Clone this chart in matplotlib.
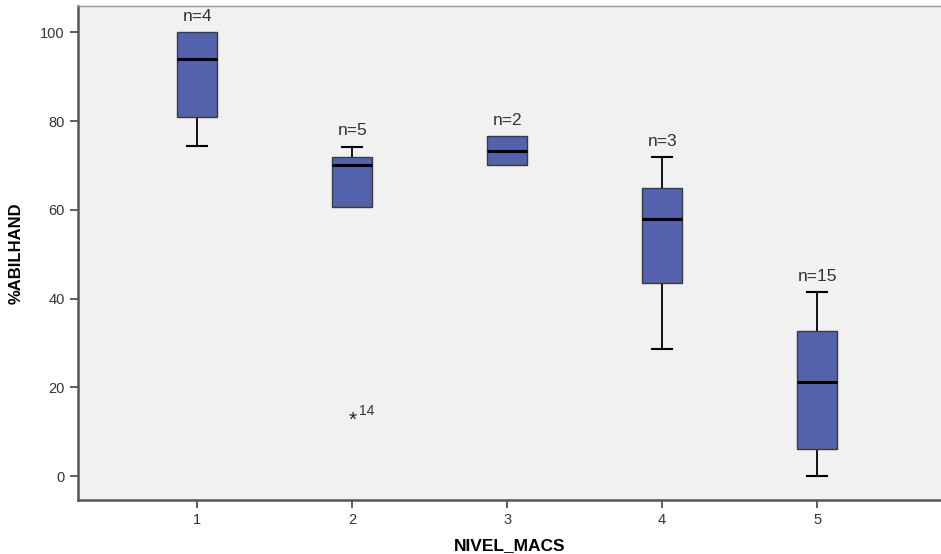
import numpy as np
import matplotlib.pyplot as plt

plt.rcParams['font.family'] = ['Liberation Sans', 'DejaVu Sans']

# box statistics
levels = [1, 2, 3, 4, 5]
whisker_low = [74.3, 60.7, 70.0, 28.7, 0.0]
q1 = [80.9, 60.7, 70.0, 43.4, 6.2]
median = [93.9, 70.2, 73.3, 58.0, 21.2]
q3 = [100.0, 71.9, 76.6, 65.0, 32.6]
whisker_high = [100.0, 74.2, 76.6, 71.9, 41.4]
n_counts = [4, 5, 2, 3, 15]

# extreme value in group 2
outlier_level = 2
outlier_value = 12.6
outlier_case = "14"

stats = []
for i in range(len(levels)):
    stats.append(dict(whislo=whisker_low[i], q1=q1[i], med=median[i], q3=q3[i],
                      whishi=whisker_high[i], fliers=[]))

fig = plt.figure(figsize=(9.41, 5.54), dpi=100)
ax = fig.add_axes([0.0829, 0.0975, 0.9171, 0.8915])
ax.set_facecolor('#f1f1f1')

bp = ax.bxp(stats, positions=levels, widths=0.26, patch_artist=True, showfliers=False,
            boxprops=dict(facecolor='#5462ad', edgecolor='#3a3a3a', linewidth=1.0, zorder=3),
            medianprops=dict(color='black', linewidth=2.2, zorder=4),
            whiskerprops=dict(color='black', linewidth=1.3, zorder=2),
            capprops=dict(color='black', linewidth=1.5, zorder=2),
            capwidths=0.13)

# no cap where the whisker has zero length (SPSS style)
for i in range(len(levels)):
    if whisker_low[i] >= q1[i]:
        bp['caps'][2 * i].set_visible(False)
    if whisker_high[i] <= q3[i]:
        bp['caps'][2 * i + 1].set_visible(False)

ax.text(outlier_level, outlier_value, '*', ha='center', va='center', fontsize=15,
        color='#222222')
ax.annotate(outlier_case, (outlier_level, outlier_value), xytext=(5, 4), textcoords='offset points',
            fontsize=10, color='#333333')

for lev, top, n in zip(levels, whisker_high, n_counts):
    ax.annotate("n=%d" % n, (lev, top), xytext=(0, 6), textcoords='offset points',
                ha='center', va='bottom', fontsize=12.5, color='#333333')

ax.set_xlim(0.23, 5.8)
ax.set_ylim(-5.4, 105.9)
ax.set_xticks(levels)
ax.set_xticklabels([str(l) for l in levels])
ax.set_yticks([0, 20, 40, 60, 80, 100])

ax.spines['right'].set_visible(False)
ax.spines['top'].set_color('#999999')
ax.spines['top'].set_linewidth(1.0)
for s in ['left', 'bottom']:
    ax.spines[s].set_color('#555555')
    ax.spines[s].set_linewidth(1.8)
ax.tick_params(axis='both', direction='out', length=6, width=1.2, color='#444444',
               labelsize=10.5, labelcolor='#333333')

ax.set_xlabel('NIVEL_MACS', fontsize=12.5, fontweight='bold', labelpad=8)
ax.set_ylabel('%ABILHAND', fontsize=12, fontweight='bold', labelpad=12)

fig.savefig('out.png', dpi=100)
